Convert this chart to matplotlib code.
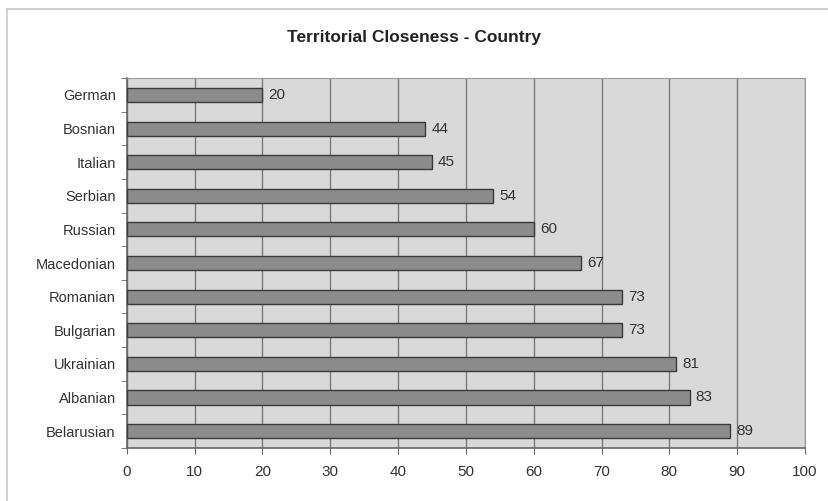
import matplotlib
matplotlib.use("Agg")
import matplotlib.pyplot as plt
from matplotlib.lines import Line2D
import numpy as np

plt.rcParams['font.family'] = ['Liberation Sans', 'DejaVu Sans']

categories = ["German", "Bosnian", "Italian", "Serbian", "Russian", "Macedonian",
              "Romanian", "Bulgarian", "Ukrainian", "Albanian", "Belarusian"]
values = [20, 44, 45, 54, 60, 67, 73, 73, 81, 83, 89]
xticks = [0, 10, 20, 30, 40, 50, 60, 70, 80, 90, 100]
title = "Territorial Closeness - Country"

fig = plt.figure(figsize=(8.29, 5.01), dpi=100)
fig.lines.append(Line2D([0.008, 1.0], [0.983, 0.983], transform=fig.transFigure,
                        color="#c8c8c8", linewidth=1.2))
fig.lines.append(Line2D([0.008, 0.008], [0.0, 0.983], transform=fig.transFigure,
                        color="#c8c8c8", linewidth=1.2))
ax = fig.add_axes([0.153, 0.106, 0.818, 0.738])
ax.set_facecolor("#d9d9d9")

y = np.arange(len(categories))
ax.barh(y, values, height=0.42, color="#8c8c8c", edgecolor="#3a3a3a", linewidth=1.0, zorder=3)
for yi, v in zip(y, values):
    ax.text(v + 0.9, yi, str(v), va="center", ha="left", fontsize=11, color="#333333", zorder=4)

ax.set_xlim(0, 100)
ax.set_ylim(len(categories) - 0.5, -0.5)
ax.set_xticks(xticks)
ax.set_xticklabels([str(t) for t in xticks], fontsize=11, color="#333333")
ax.set_yticks(y)
ax.set_yticklabels(categories, fontsize=10.5, color="#333333")
ax.tick_params(axis="y", length=0, pad=8)
ax.set_yticks(np.arange(-0.5, len(categories), 1), minor=True)
ax.tick_params(axis="y", which="minor", length=4, color="#666666")
ax.tick_params(axis="x", length=4, color="#666666", pad=8)
ax.xaxis.grid(True, color="#7a7a7a", linewidth=1.0, zorder=1)
ax.set_axisbelow(True)
for side in ["top", "right"]:
    ax.spines[side].set_color("#9a9a9a")
for side in ["left", "bottom"]:
    ax.spines[side].set_color("#666666")
    ax.spines[side].set_linewidth(1.2)

fig.text(0.5, 0.925, title, ha="center", va="center", fontsize=12.5, fontweight="bold", color="#222222")

fig.savefig("out.png", dpi=100)
